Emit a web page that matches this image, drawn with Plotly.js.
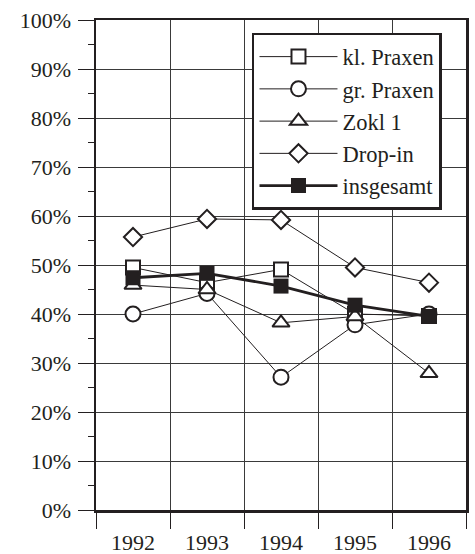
<!DOCTYPE html>
<html>
<head>
<meta charset="utf-8">
<script src="https://cdn.plot.ly/plotly-3.0.1.min.js"></script>
<style>html,body{margin:0;padding:0;background:#fff;}#chart{width:475px;height:554px;}</style>
</head>
<body>
<div id="chart"></div>
<script>
const years = ["1992", "1993", "1994", "1995", "1996"];
const klPraxen = [49.5, 46.4, 49.1, 40.0, 39.6];
const grPraxen = [40.0, 44.2, 27.1, 37.8, 40.0];
const zokl1 = [45.9, 45.0, 38.2, 39.5, 27.9];
const dropIn = [55.7, 59.4, 59.2, 49.5, 46.4];
const insgesamt = [47.4, 48.3, 45.7, 41.8, 39.5];
const seriesNames = ["kl. Praxen", "gr. Praxen", "Zokl 1", "Drop-in", "insgesamt"];
const yTickVals = [0, 10, 20, 30, 40, 50, 60, 70, 80, 90, 100];
const yTickText = ["0%", "10%", "20%", "30%", "40%", "50%", "60%", "70%", "80%", "90%", "100%"];

const ink = "#231f20";
const serif = "'Liberation Serif', 'Times New Roman', serif";
function thin(name, y, symbol, size) {
  return {
    type: "scatter", mode: "lines+markers", name: name, x: years, y: y,
    line: {color: ink, width: 1},
    marker: {symbol: symbol, size: size, color: "#ffffff", line: {color: ink, width: 2}}
  };
}
const data = [
  thin(seriesNames[0], klPraxen, "square", 14),
  thin(seriesNames[1], grPraxen, "circle", 15),
  thin(seriesNames[2], zokl1, "triangle-up", 15),
  thin(seriesNames[3], dropIn, "diamond", 14),
  {
    type: "scatter", mode: "lines+markers", name: seriesNames[4], x: years, y: insgesamt,
    line: {color: ink, width: 2.8},
    marker: {symbol: "square", size: 15, color: ink, line: {color: ink, width: 0}}
  }
];

const layout = {
  width: 475, height: 554,
  margin: {l: 96, r: 9, t: 20, b: 44},
  paper_bgcolor: "#ffffff", plot_bgcolor: "#ffffff",
  font: {family: serif, size: 22, color: ink},
  showlegend: true,
  legend: {
    x: 0.4216, y: 0.9735, xanchor: "left", yanchor: "top",
    bgcolor: "#ffffff", bordercolor: ink, borderwidth: 2.5,
    font: {family: serif, size: 22.5, color: ink},
    itemwidth: 78
  },
  xaxis: {
    type: "category", range: [-0.5, 4.5],
    tickson: "boundaries", ticks: "outside", ticklen: 16, tickwidth: 1, tickcolor: ink,
    showgrid: true, gridcolor: "#3a3a3a", gridwidth: 1,
    showline: true, linecolor: ink, linewidth: 2.5, mirror: true,
    zeroline: false, ticklabelstandoff: 11,
    tickfont: {family: serif, size: 22, color: ink}
  },
  yaxis: {
    range: [0, 100], tickvals: yTickVals, ticktext: yTickText,
    ticks: "outside", ticklen: 16, tickwidth: 1, tickcolor: ink,
    minor: {dtick: 5, tick0: 0, ticks: "outside", ticklen: 6, tickwidth: 1, tickcolor: ink, showgrid: false},
    showgrid: true, gridcolor: "#3a3a3a", gridwidth: 1,
    showline: true, linecolor: ink, linewidth: 2.5, mirror: true,
    zeroline: false, ticklabelstandoff: 2,
    tickfont: {family: serif, size: 22, color: ink}
  }
};
Plotly.newPlot("chart", data, layout, {staticPlot: true, displayModeBar: false});
</script>
</body>
</html>
